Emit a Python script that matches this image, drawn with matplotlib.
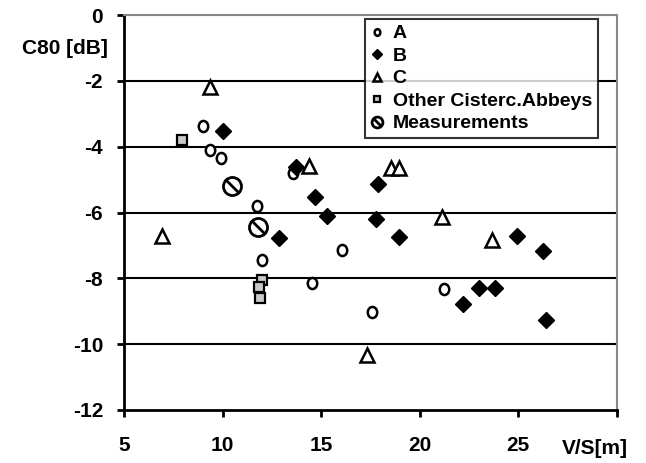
import matplotlib
matplotlib.use("Agg")
import matplotlib.pyplot as plt
from matplotlib.path import Path
import numpy as np

plt.rcParams['font.family'] = ['Liberation Sans', 'DejaVu Sans']
plt.rcParams['font.weight'] = 'bold'

# Data
A_x = [9.0, 9.36, 9.92, 13.57, 11.74, 12.0, 14.53, 16.05, 21.23, 17.58]
A_y = [-3.37, -4.10, -4.35, -4.80, -5.8, -7.45, -8.15, -7.14, -8.33, -9.03]

B_x = [10.02, 13.72, 14.69, 12.86, 15.3, 17.88, 17.78, 18.95, 24.93, 26.25, 23.0, 23.81, 22.19, 26.4]
B_y = [-3.53, -4.62, -5.53, -6.78, -6.11, -5.14, -6.2, -6.75, -6.72, -7.17, -8.3, -8.3, -8.78, -9.27]

C_x = [9.36, 14.38, 18.54, 18.95, 21.13, 23.66, 6.93, 17.32]
C_y = [-2.19, -4.59, -4.65, -4.65, -6.14, -6.84, -6.72, -10.33]

O_x = [7.94, 12.0, 11.85, 11.9]
O_y = [-3.8, -8.05, -8.27, -8.6]

M_x = [10.48, 11.8]
M_y = [-5.2, -6.44]

x_ticks = [5, 10, 15, 20, 25]
y_ticks = [0, -2, -4, -6, -8, -10, -12]

fig = plt.figure(figsize=(6.46, 4.63), dpi=100)
ax = fig.add_axes([0.192, 0.1145, 0.763, 0.853])

# custom markers
circ = Path.unit_circle()
ell_verts = circ.vertices * np.array([0.85, 1.0])
ellipse = Path(ell_verts, circ.codes)
meas = Path.make_compound_path(circ, Path([(-0.75, 0.75), (0.75, -0.75)]))

ax.plot(A_x, A_y, linestyle='none', marker=ellipse, markersize=8, markerfacecolor='white',
        markeredgecolor='black', markeredgewidth=1.8, label='A', zorder=3)
ax.plot(B_x, B_y, linestyle='none', marker='D', markersize=8, color='black', label='B', zorder=3)
ax.plot(C_x, C_y, linestyle='none', marker='^', markersize=10, markerfacecolor='white',
        markeredgecolor='black', markeredgewidth=1.8, label='C', zorder=3)
ax.plot(O_x, O_y, linestyle='none', marker='s', markersize=7, markerfacecolor='#c8c8c8',
        markeredgecolor='black', markeredgewidth=1.6, label='Other Cisterc.Abbeys', zorder=3)
ax.plot(M_x, M_y, linestyle='none', marker=meas, markersize=13, markerfacecolor='none',
        markeredgecolor='black', markeredgewidth=2, label='Measurements', zorder=3)

ax.set_xlim(5, 30)
ax.set_ylim(-12, 0)
ax.set_xticks(x_ticks + [30])
ax.set_xticklabels([str(t) for t in x_ticks] + [''])
ax.set_yticks(y_ticks)
ax.set_yticklabels([str(t) for t in y_ticks])

for y in y_ticks[1:-1]:
    ax.axhline(y, color='black', linewidth=1.5, zorder=1)

for s in ['left', 'bottom']:
    ax.spines[s].set_linewidth(2)
    ax.spines[s].set_color('black')
for s in ['top', 'right']:
    ax.spines[s].set_linewidth(1.5)
    ax.spines[s].set_color('#888888')

ax.tick_params(axis='x', direction='out', length=5, width=2, pad=14, labelsize=15)
ax.tick_params(axis='y', direction='out', length=5, width=2, pad=10, labelsize=15)
for lbl in ax.get_xticklabels() + ax.get_yticklabels():
    lbl.set_fontweight('bold')

fig.text(108 / 646, 1 - 48 / 463, 'C80 [dB]', ha='right', va='center', fontsize=15, fontweight='bold')
fig.text(595 / 646, 1 - 449 / 463, 'V/S[m]', ha='center', va='center', fontsize=15, fontweight='bold')

leg = ax.legend(loc='upper right', bbox_to_anchor=(0.961, 0.99), borderaxespad=0, frameon=True,
                fancybox=False, edgecolor='black', prop={'weight': 'bold', 'size': 14},
                handlelength=0.6, handletextpad=0.5, borderpad=0.3, labelspacing=0.25,
                markerscale=0.6)
leg.get_frame().set_linewidth(1.5)

fig.savefig('out.png', dpi=100)
